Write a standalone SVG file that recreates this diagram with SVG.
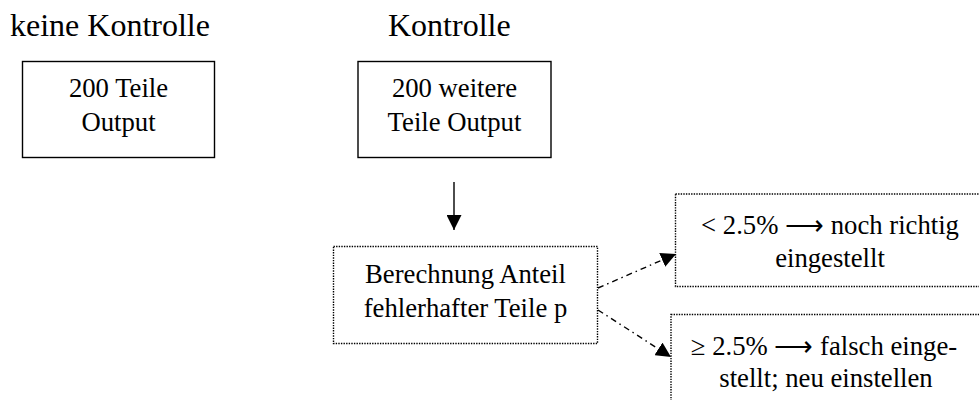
<svg xmlns="http://www.w3.org/2000/svg" width="979" height="400" viewBox="0 0 979 400">
<defs>
<style>
.solid{fill:#fff;stroke:#000;stroke-width:1.4}
.dot{fill:#fff;stroke:#000;stroke-width:1.4;stroke-dasharray:1.4 1.2}
.dd{fill:none;stroke:#000;stroke-width:1.4;stroke-dasharray:6 4 1.5 4}
</style>
<marker id="ah" viewBox="0 0 10 10" refX="10" refY="5" markerWidth="15" markerHeight="15" markerUnits="userSpaceOnUse" orient="auto">
<path d="M0,0 L10,5 L0,10 Z" fill="#000"/>
</marker>
</defs>
<g id="title-left"><text x="10" y="36" font-family="Liberation Serif" font-size="32">keine Kontrolle</text></g>
<g id="title-right"><text x="388" y="36" font-family="Liberation Serif" font-size="32">Kontrolle</text></g>
<g id="node1">
<rect class="solid" x="22.5" y="61.5" width="192" height="96"/>
<text x="118.5" y="97" font-family="Liberation Serif" font-size="26.7" text-anchor="middle">200 Teile</text>
<text x="118.5" y="131" font-family="Liberation Serif" font-size="26.7" text-anchor="middle">Output</text>
</g>
<g id="node2">
<rect class="solid" x="358" y="61.5" width="193" height="96"/>
<text x="454.5" y="97" font-family="Liberation Serif" font-size="26.7" text-anchor="middle">200 weitere</text>
<text x="454.5" y="131" font-family="Liberation Serif" font-size="26.7" text-anchor="middle">Teile Output</text>
</g>
<g id="node3">
<rect class="dot" x="333.5" y="246.5" width="264" height="97"/>
<text x="465.5" y="283" font-family="Liberation Serif" font-size="26.7" text-anchor="middle">Berechnung Anteil</text>
<text x="465.5" y="317" font-family="Liberation Serif" font-size="26.7" text-anchor="middle">fehlerhafter Teile p</text>
</g>
<g id="node4">
<rect class="dot" x="675.5" y="194" width="310" height="92.5"/>
<text x="830" y="234" font-family="Liberation Serif" font-size="26.7" text-anchor="middle">&lt; 2.5% ⟶ noch richtig</text>
<text x="830" y="267" font-family="Liberation Serif" font-size="26.7" text-anchor="middle">eingestellt</text>
</g>
<g id="node5">
<rect class="dot" x="671" y="314.5" width="315" height="100"/>
<text x="824" y="355" font-family="Liberation Serif" font-size="26.7" text-anchor="middle">≥ 2.5% ⟶ falsch einge-</text>
<text x="826" y="387" font-family="Liberation Serif" font-size="26.7" text-anchor="middle">stellt; neu einstellen</text>
</g>
<g id="connectors">
<line x1="454" y1="182" x2="454" y2="230" stroke="#000" stroke-width="1.4" marker-end="url(#ah)"/>
<line class="dd" x1="598" y1="288" x2="676" y2="254" marker-end="url(#ah)"/>
<line class="dd" x1="598" y1="310" x2="671" y2="357" marker-end="url(#ah)"/>
</g>
</svg>
